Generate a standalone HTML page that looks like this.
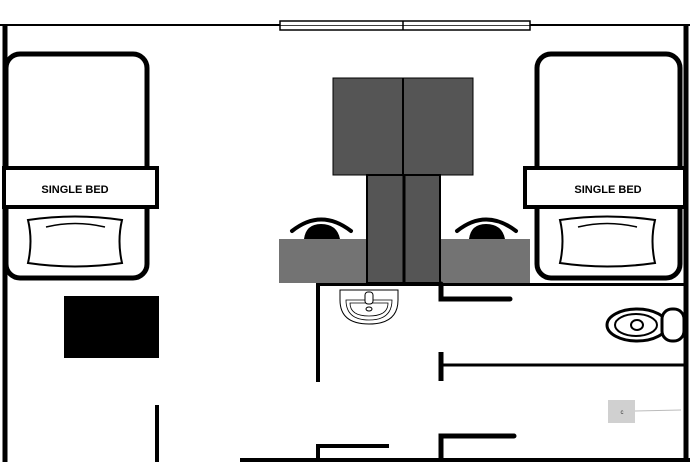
<!DOCTYPE html>
<html><head><style>html,body{margin:0;padding:0;background:#fff;}svg{display:block}</style></head>
<body>
<svg width="690" height="462" viewBox="0 0 690 462" xmlns="http://www.w3.org/2000/svg">
<rect width="690" height="462" fill="#fff"/>
<!-- outer walls -->
<line x1="0" y1="25" x2="690" y2="25" stroke="#000" stroke-width="2"/>
<line x1="5" y1="25" x2="5" y2="462" stroke="#000" stroke-width="5"/>
<line x1="686" y1="25" x2="686" y2="462" stroke="#000" stroke-width="5"/>
<line x1="240" y1="460" x2="690" y2="460" stroke="#000" stroke-width="4"/>
<line x1="157" y1="405" x2="157" y2="462" stroke="#000" stroke-width="4"/>
<!-- window -->
<rect x="280" y="21" width="250" height="9" fill="#fff" stroke="#000" stroke-width="1.5"/>
<line x1="280" y1="25.5" x2="530" y2="25.5" stroke="#000" stroke-width="0.8"/>
<line x1="403" y1="21" x2="403" y2="30" stroke="#000" stroke-width="1.5"/>
<!-- left bed -->
<rect x="6" y="54" width="141" height="224" rx="14" fill="#fff" stroke="#000" stroke-width="5"/>
<rect x="4" y="168" width="153" height="39" fill="#fff" stroke="#000" stroke-width="4"/>
<text x="75" y="193" font-family="Liberation Sans, sans-serif" font-weight="bold" font-size="11" text-anchor="middle">SINGLE BED</text>
<path d="M28 220 Q75 213 122 220 Q117 241 122 263 Q75 270 28 263 Q33 241 28 220Z" fill="#fff" stroke="#000" stroke-width="2"/>
<path d="M46 227 Q75 220 105 227" fill="none" stroke="#000" stroke-width="1.5"/>
<!-- right bed -->
<rect x="537" y="54" width="143" height="224" rx="14" fill="#fff" stroke="#000" stroke-width="5"/>
<rect x="525" y="168" width="160" height="39" fill="#fff" stroke="#000" stroke-width="4"/>
<text x="608" y="193" font-family="Liberation Sans, sans-serif" font-weight="bold" font-size="11" text-anchor="middle">SINGLE BED</text>
<path d="M560 220 Q607 213 655 220 Q650 241 655 263 Q607 270 560 263 Q565 241 560 220Z" fill="#fff" stroke="#000" stroke-width="2"/>
<path d="M578 227 Q607 220 637 227" fill="none" stroke="#000" stroke-width="1.5"/>
<!-- black rect -->
<rect x="64" y="296" width="95" height="62" fill="#000"/>
<!-- wardrobe -->
<rect x="333" y="78" width="140" height="97" fill="#555" stroke="#000" stroke-width="1"/>
<line x1="403" y1="78" x2="403" y2="175" stroke="#000" stroke-width="2"/>
<!-- desk -->
<rect x="279" y="239" width="251" height="44" fill="#737373"/>
<rect x="367" y="175" width="73" height="108" fill="#555" stroke="#000" stroke-width="2"/>
<line x1="404" y1="175" x2="404" y2="283" stroke="#000" stroke-width="3"/>
<!-- chairs -->
<path d="M292 231 Q321 208 351 231" fill="none" stroke="#000" stroke-width="4" stroke-linecap="round"/>
<path d="M304 239 Q306 224 321 224 Q337 224 340 239Z" fill="#000"/>
<path d="M457 231 Q486 208 516 231" fill="none" stroke="#000" stroke-width="4" stroke-linecap="round"/>
<path d="M469 239 Q471 224 486 224 Q502 224 505 239Z" fill="#000"/>
<!-- bathroom walls -->
<line x1="316" y1="284.5" x2="686" y2="284.5" stroke="#000" stroke-width="3"/>
<line x1="318" y1="284" x2="318" y2="382" stroke="#000" stroke-width="4"/>
<path d="M441 284 V299 H510" fill="none" stroke="#000" stroke-width="5" stroke-linecap="round"/>
<line x1="441" y1="352" x2="441" y2="381" stroke="#000" stroke-width="5"/>
<line x1="441" y1="365" x2="686" y2="365" stroke="#000" stroke-width="3"/>
<path d="M318 462 V446 H389" fill="none" stroke="#000" stroke-width="4"/>
<path d="M441 462 V436 H514" fill="none" stroke="#000" stroke-width="5" stroke-linecap="round"/>
<!-- sink -->
<path d="M340 290 H398 V300 Q398 324 369 324 Q340 324 340 300Z" fill="#fff" stroke="#000" stroke-width="1"/>
<path d="M346 300 H392 Q392 320 369 320 Q346 320 346 300Z" fill="none" stroke="#000" stroke-width="0.8"/>
<path d="M350 303 H388 Q388 316 369 316 Q350 316 350 303Z" fill="none" stroke="#000" stroke-width="0.8"/>
<rect x="365" y="292" width="8" height="12" rx="3" fill="#fff" stroke="#000" stroke-width="1"/>
<ellipse cx="369" cy="309" rx="3" ry="2" fill="none" stroke="#000" stroke-width="1"/>
<!-- toilet -->
<ellipse cx="637" cy="325" rx="30" ry="16" fill="#fff" stroke="#000" stroke-width="3"/>
<ellipse cx="636" cy="325" rx="21" ry="11" fill="none" stroke="#000" stroke-width="2"/>
<ellipse cx="637" cy="325" rx="6" ry="5" fill="none" stroke="#000" stroke-width="2"/>
<rect x="662" y="309" width="22" height="32" rx="10" fill="#fff" stroke="#000" stroke-width="3"/>
<!-- shower -->
<rect x="608" y="400" width="27" height="23" fill="#d0d0d0"/>
<text x="622" y="414" font-family="Liberation Sans, sans-serif" font-size="6" text-anchor="middle" fill="#333">c</text>
<line x1="635" y1="411" x2="681" y2="410" stroke="#bbb" stroke-width="1"/>
</svg>
</body></html>
